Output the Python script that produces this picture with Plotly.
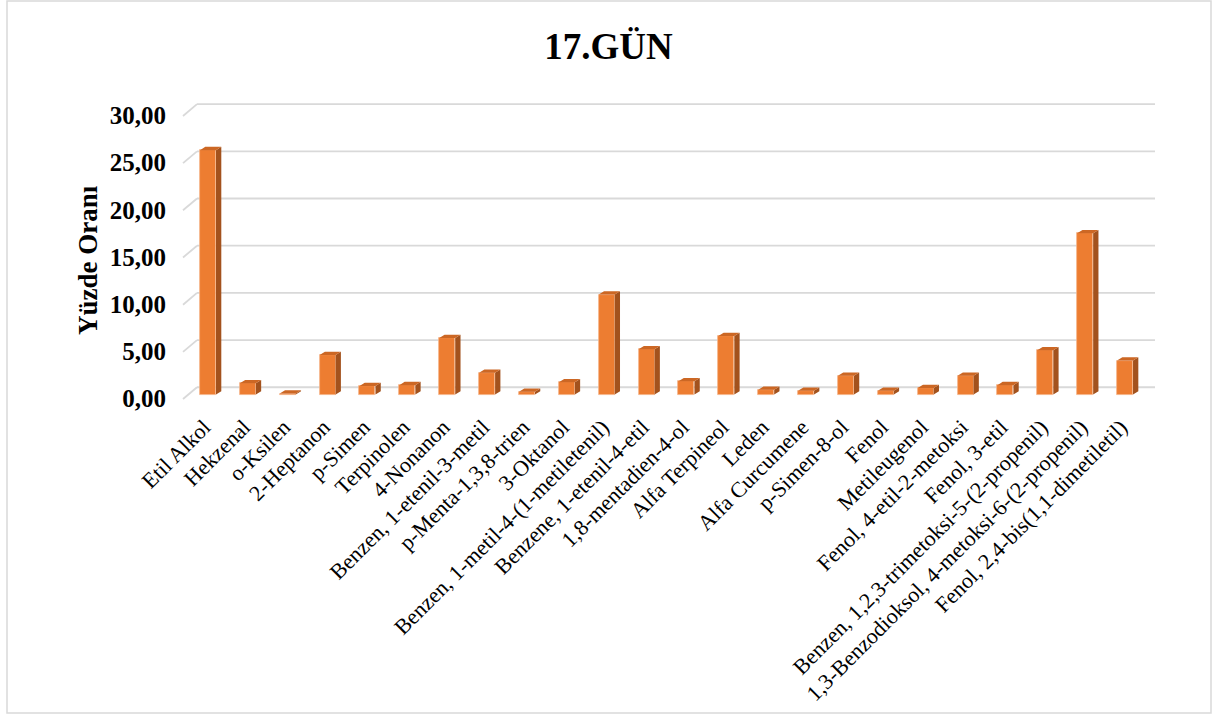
import plotly.graph_objects as go

# Compound names (x categories) and their percentage shares
categories = [
    "Etil Alkol", "Hekzenal", "o-Ksilen", "2-Heptanon", "p-Simen", "Terpinolen",
    "4-Nonanon", "Benzen, 1-etenil-3-metil", "p-Menta-1,3,8-trien", "3-Oktanol",
    "Benzen, 1-metil-4-(1-metiletenil)", "Benzene, 1-etenil-4-etil",
    "1,8-mentadien-4-ol", "Alfa Terpineol", "Leden", "Alfa Curcumene",
    "p-Simen-8-ol", "Fenol", "Metileugenol", "Fenol, 4-etil-2-metoksi",
    "Fenol, 3-etil", "Benzen, 1,2,3-trimetoksi-5-(2-propenil)",
    "1,3-Benzodioksol, 4-metoksi-6-(2-propenil)", "Fenol, 2,4-bis(1,1-dimetiletil)",
]
values = [
    25.9, 1.2, 0.1, 4.2, 0.9, 1.0,
    6.0, 2.3, 0.3, 1.3,
    10.6, 4.8,
    1.4, 6.2, 0.5, 0.4,
    2.0, 0.4, 0.7, 2.0,
    1.0, 4.7,
    17.1, 3.6,
]
y_ticks = [0, 5, 10, 15, 20, 25, 30]

# ---- layout geometry (pixels) ----
W, H = 1217, 717
ML, MR, MT, MB = 183, 57, 102, 313
PW, PH = W - ML - MR, H - MT - MB
x_range = [-0.627, 23.877]
y_range = [-1, 31]
ppu_x = PW / (x_range[1] - x_range[0])
ppu_y = PH / (y_range[1] - y_range[0])

bar_w = 16 / ppu_x            # front face width
depth_dx = 5.3 / ppu_x        # 3-D depth offset
depth_dy = 3.3 / ppu_y

FRONT = "#ED7D31"
SIDE = "#A3521D"
TOP = "#CC6724"
GRID = "#D9D9D9"
SERIF = "Liberation Serif"

xs = list(range(len(categories)))

fig = go.Figure()

# front faces
fig.add_trace(go.Bar(
    x=xs, y=values, width=bar_w,
    marker=dict(color=FRONT, line=dict(color="#F5B58A", width=0.8)),
    hoverinfo="skip", showlegend=False,
))

# side and top faces of the 3-D columns
side_x, side_y, top_x, top_y = [], [], [], []
for x, v in zip(xs, values):
    r = x + bar_w / 2
    l = x - bar_w / 2
    side_x += [r, r + depth_dx, r + depth_dx, r, r, None]
    side_y += [0, depth_dy, v + depth_dy, v, 0, None]
    top_x += [l, r, r + depth_dx, l + depth_dx, l, None]
    top_y += [v, v, v + depth_dy, v + depth_dy, v, None]

fig.add_trace(go.Scatter(x=side_x, y=side_y, mode="lines", fill="toself",
                         fillcolor=SIDE, line=dict(width=0, color=SIDE),
                         hoverinfo="skip", showlegend=False))
fig.add_trace(go.Scatter(x=top_x, y=top_y, mode="lines", fill="toself",
                         fillcolor=TOP, line=dict(width=0, color=TOP),
                         hoverinfo="skip", showlegend=False))

# back-wall gridlines with their perspective lead-in on the left
shapes = []
wall_dx = 14 / PW
wall_right = (1155 - ML) / PW
for t in y_ticks:
    shapes.append(dict(type="line", layer="below", xref="paper", yref="y",
                       ysizemode="pixel", yanchor=t,
                       x0=0, x1=wall_dx, y0=-4.5, y1=7.3,
                       line=dict(color=GRID, width=1.8)))
    shapes.append(dict(type="line", layer="below", xref="paper", yref="y",
                       ysizemode="pixel", yanchor=t,
                       x0=wall_dx, x1=wall_right, y0=7.3, y1=7.3,
                       line=dict(color=GRID, width=1.8)))

# chart frame
shapes.append(dict(type="rect", layer="below", xref="paper", yref="paper",
                   x0=(7 - ML) / PW, x1=(1211 - ML) / PW,
                   y0=(MT + PH - 713) / PH, y1=(MT + PH - 1) / PH,
                   line=dict(color=GRID, width=1.5)))

fig.update_layout(
    width=W, height=H,
    margin=dict(l=ML, r=MR, t=MT, b=MB, autoexpand=False),
    paper_bgcolor="white", plot_bgcolor="white",
    separators=",.",
    shapes=shapes,
    title=dict(text="<b>17.GÜN</b>", x=0.5, xref="container", xanchor="center",
               y=1 - 46 / H, yref="container", yanchor="middle",
               font=dict(family=SERIF, size=37, color="black")),
    xaxis=dict(range=x_range, tickmode="array", tickvals=xs, ticktext=categories,
               tickangle=-45, showgrid=False, zeroline=False, showline=False,
               ticks="", ticklabelshift=-4, ticklabelstandoff=5,
               tickfont=dict(family=SERIF, size=22, color="black"),
               fixedrange=True),
    yaxis=dict(range=y_range, tickmode="array", tickvals=y_ticks,
               tickformat=".2f", showgrid=False, zeroline=False, showline=False,
               ticks="", ticklabelshift=4, ticklabelstandoff=16,
               tickfont=dict(family=SERIF, size=25, color="black", weight="bold"),
               fixedrange=True),
    annotations=[dict(text="<b>Yüzde Oranı</b>", textangle=-90,
                      xref="paper", yref="paper",
                      x=(88 - ML) / PW, y=(MT + PH - 260) / PH,
                      xanchor="center", yanchor="middle", showarrow=False,
                      font=dict(family=SERIF, size=27, color="black"))],
    bargap=0,
)

fig.write_html("out.html")
